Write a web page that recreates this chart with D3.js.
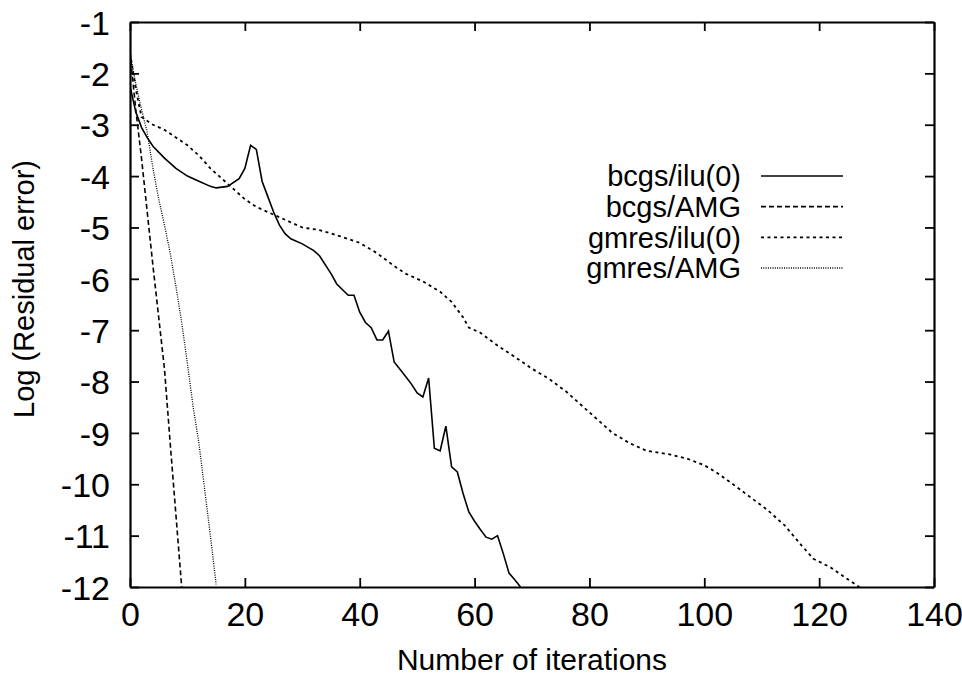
<!DOCTYPE html>
<html>
<head>
<meta charset="utf-8">
<script src="https://cdn.jsdelivr.net/npm/d3@7/dist/d3.min.js"></script>
<style>
  body { margin: 0; background: #fff; }
  text { font-family: "Liberation Sans", Arial, Helvetica, sans-serif; fill: #000; }
</style>
</head>
<body>
<script>
// series: [iteration, log residual]
var bcgsIlu = [[0,-2.25],[1,-2.75],[2,-3.05],[3,-3.25],[4,-3.42],[6,-3.65],[8,-3.85],[10,-4.0],[12,-4.1],
  [14,-4.2],[15,-4.23],[17,-4.2],[19,-4.05],[20,-3.85],[21,-3.4],[22,-3.48],[23,-4.1],[24,-4.4],[25,-4.7],
  [26,-4.95],[27,-5.12],[28,-5.22],[30,-5.32],[32,-5.45],[33,-5.55],[35,-5.9],[36,-6.1],[38,-6.32],[39,-6.32],
  [40,-6.65],[41,-6.85],[42,-6.95],[43,-7.19],[44,-7.19],[45,-7.02],[46,-7.62],[48,-7.9],[49,-8.05],[50,-8.22],
  [51,-8.3],[52,-7.93],[53,-9.3],[54,-9.35],[55,-8.87],[56,-9.66],[57,-9.76],[58,-10.18],[59,-10.54],[60,-10.72],
  [61,-10.88],[62,-11.03],[63,-11.07],[64,-11.0],[65,-11.35],[66,-11.73],[67,-11.86],[68,-12.0]];
var bcgsAmg = [[0,-1.6],[1,-2.7],[2,-3.65],[3,-4.7],[4,-5.75],[5,-6.75],[6,-7.75],[7,-9.2],[8,-10.6],[9,-12.0]];
var gmresIlu = [[0,-1.6],[1,-2.3],[2,-2.85],[4,-3.0],[6,-3.1],[8,-3.25],[10,-3.4],[12,-3.6],[14,-3.85],[16,-4.05],
  [18,-4.25],[20,-4.45],[22,-4.6],[24,-4.7],[26,-4.8],[28,-4.9],[30,-5.0],[33,-5.05],[36,-5.15],[40,-5.3],
  [43,-5.5],[46,-5.75],[48,-5.9],[51,-6.05],[54,-6.25],[56,-6.45],[58,-6.75],[59,-6.95],[61,-7.05],[64,-7.3],
  [67,-7.52],[70,-7.75],[73,-7.95],[76,-8.2],[78,-8.4],[80,-8.6],[82,-8.8],[84,-9.0],[87,-9.2],[90,-9.35],
  [94,-9.42],[97,-9.5],[100,-9.63],[102,-9.76],[105,-10.0],[108,-10.25],[111,-10.5],[114,-10.8],[117,-11.2],
  [119,-11.45],[122,-11.62],[125,-11.85],[127,-12.0]];
var gmresAmg = [[0,-1.6],[1,-2.2],[2,-2.7],[3,-3.15],[4,-3.85],[5,-4.45],[6,-4.95],[7,-5.5],[8,-6.15],[9,-6.85],
  [10,-7.65],[11,-8.5],[12,-9.2],[13,-10.1],[14,-11.0],[15,-11.95]];

var seriesNames = ["bcgs/ilu(0)", "bcgs/AMG", "gmres/ilu(0)", "gmres/AMG"];
var xTicks = [0, 20, 40, 60, 80, 100, 120, 140];
var yTicks = [-1, -2, -3, -4, -5, -6, -7, -8, -9, -10, -11, -12];

var svg = d3.select("body").append("svg")
            .attr("width", 962)
            .attr("height", 675);

// plot frame (pixels)
var pLeft = 130, pRight = 934, pTop = 22, pBottom = 587;

var x = d3.scaleLinear().domain([0, 140]).range([pLeft, pRight]);
var y = d3.scaleLinear().domain([-12, -1]).range([pBottom, pTop]);

svg.append("clipPath").attr("id", "clip")
   .append("rect")
   .attr("x", pLeft).attr("y", pTop)
   .attr("width", pRight - pLeft).attr("height", pBottom - pTop);

// axes, ticks pointing inwards on all four sides
var axB = svg.append("g").attr("transform", "translate(0," + pBottom + ")")
             .call(d3.axisBottom(x).tickValues(xTicks).tickSizeInner(-9).tickSizeOuter(0).tickPadding(15));
var axT = svg.append("g").attr("transform", "translate(0," + pTop + ")")
             .call(d3.axisTop(x).tickValues(xTicks).tickSizeInner(-9).tickSizeOuter(0).tickFormat(""));
var axL = svg.append("g").attr("transform", "translate(" + pLeft + ",0)")
             .call(d3.axisLeft(y).tickValues(yTicks).tickSizeInner(-9).tickSizeOuter(0).tickPadding(20)
                     .tickFormat(function(d) { return String(d); }));
var axR = svg.append("g").attr("transform", "translate(" + pRight + ",0)")
             .call(d3.axisRight(y).tickValues(yTicks).tickSizeInner(-9).tickSizeOuter(0).tickFormat(""));

[axB, axT, axL, axR].forEach(function(a) {
  a.select(".domain").attr("stroke", "#000").attr("stroke-width", 2.2);
  a.selectAll(".tick line").attr("stroke", "#000").attr("stroke-width", 1.8);
  a.selectAll("text").attr("font-size", 34).attr("font-family", "Liberation Sans, Arial, sans-serif").attr("fill", "#000");
});
axB.selectAll("text").attr("dy", "0.71em");
axL.selectAll("text").attr("dy", "0.36em");

// axis titles
svg.append("text")
   .attr("x", (pLeft + pRight) / 2)
   .attr("y", 670)
   .attr("text-anchor", "middle")
   .attr("font-size", 30)
   .text("Number of iterations");

svg.append("text")
   .attr("transform", "translate(34,289) rotate(-90)")
   .attr("text-anchor", "middle")
   .attr("font-size", 29)
   .text("Log (Residual error)");

// lines
var styles = [
  { data: bcgsIlu, dash: null, w: 1.6 },
  { data: bcgsAmg, dash: "5,3", w: 1.6 },
  { data: gmresIlu, dash: "3,3.5", w: 1.8 },
  { data: gmresAmg, dash: "1,1.3", w: 1.3 }
];

var line = d3.line().x(function(d) { return x(d[0]); }).y(function(d) { return y(d[1]); });

var plot = svg.append("g").attr("clip-path", "url(#clip)");
styles.forEach(function(s) {
  plot.append("path")
      .datum(s.data)
      .attr("d", line)
      .attr("fill", "none")
      .attr("stroke", "#000")
      .attr("stroke-width", s.w)
      .attr("stroke-dasharray", s.dash);
});

// legend
var legend = svg.append("g");
var legY = d3.scalePoint().domain(seriesNames).range([176, 268]);
seriesNames.forEach(function(name, i) {
  legend.append("text")
        .attr("x", 741)
        .attr("y", legY(name))
        .attr("dy", "0.36em")
        .attr("text-anchor", "end")
        .attr("font-size", 29)
        .text(name);
  legend.append("line")
        .attr("x1", 761).attr("x2", 843)
        .attr("y1", legY(name)).attr("y2", legY(name))
        .attr("stroke", "#000")
        .attr("stroke-width", styles[i].w)
        .attr("stroke-dasharray", styles[i].dash);
});
</script>
</body>
</html>
